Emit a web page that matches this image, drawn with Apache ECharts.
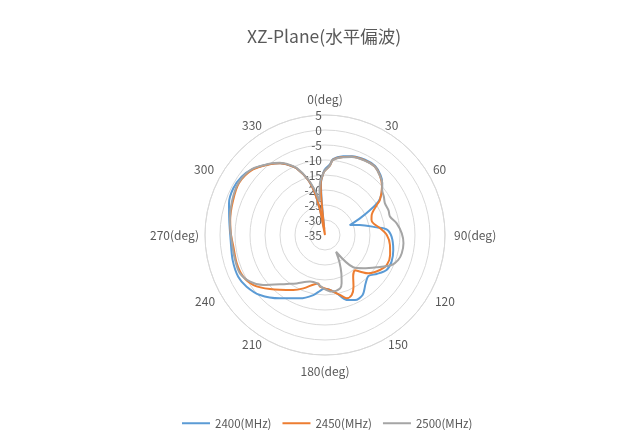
<!DOCTYPE html>
<html>
<head>
<meta charset="utf-8">
<script src="https://cdn.jsdelivr.net/npm/echarts@6/dist/echarts.min.js"></script>
<style>
html,body{margin:0;padding:0;background:#fff;}
#chart{width:638px;height:440px;}
</style>
</head>
<body>
<div id="chart"></div>
<script>
var seriesNames = ['2400(MHz)', '2450(MHz)', '2500(MHz)'];
var radiusTicks = [-35, -30, -25, -20, -15, -10, -5, 0, 5];
var angleTickLabels = {0: '0(deg)', 90: '90(deg)', 180: '180(deg)', 270: '270(deg)'};

var angles2400 = [0,4,6,13,19,28,36,43,47.6,53.7,58,61,64.5,68.2,74,81.6,84.7,91.4,102.4,111.8,119.6,127,133.4,140.1,147.9,155.2,161.6,168.7,176.5,181.1,185.1,191,201.5,215.4,227.3,236.6,244.3,254.8,267,278.9,288.3,297,305,312,322,328,333,337,343,346.5,348.7,350,353,354.5,355.5,358.5,360];
var gain2400 = [-13,-11.4,-9.6,-8.1,-7.2,-6.6,-6.6,-7.8,-9.2,-11.6,-14,-17.8,-22.1,-26,-22.9,-17.6,-14.4,-12.8,-11.7,-11.1,-11.4,-13.4,-15.1,-13.9,-11.4,-11.1,-12.2,-15.2,-16.9,-17.1,-16.3,-14.6,-12.3,-9.1,-5.5,-3.7,-2.9,-3.1,-3.5,-2.7,-1.3,-0.7,-1.1,-2.3,-5.0,-6.8,-8.9,-10.9,-15.8,-20.7,-26.5,-31,-33,-24,-17.7,-14.2,-13];

var angles2450 = [0,4,6,13,19,28,36,43,49.5,57.5,60,67,72,76.5,83,90,98.7,107,116,122.5,131.5,136,139.5,146,151,156,161,166,175,185.5,188,202,210,225.5,235,243,252,263,271,279,290,301,312,322,328,333,337,343,346.5,348.7,348.7,352,354,355.2,358.5,360];
var gain2450 = [-13.5,-11.8,-9.8,-8.3,-7.4,-6.8,-6.8,-8.1,-10.0,-13.3,-15.1,-18.1,-18.7,-18.4,-16.5,-14.4,-13.1,-12.3,-12.1,-13.3,-15.7,-18,-19.6,-18.2,-15.4,-13.1,-12.7,-14.4,-16.6,-17.7,-18.7,-15.8,-13.8,-9.3,-5.9,-4.4,-4.1,-4.2,-3.6,-3.0,-2.3,-1.5,-2.5,-5.1,-6.8,-8.9,-10.9,-15.8,-20.7,-26.5,-32.2,-35,-24.4,-17.7,-14.4,-13.5];

var angles2500 = [0,4,6,13,19,28,36,43,47.6,52,57,62,69,74,80.8,88.8,96,103.4,108.8,114.2,122,131,138.8,146.6,151.7,156.9,161,164.3,173.3,181.8,189.8,197.8,210.4,218,231,238.1,245.7,254.5,266.9,279,290,301,312,322,328,333,337,343,347,350.4,352.5,354.5,358.5,360];
var gain2500 = [-13.5,-11.8,-9.9,-8.4,-7.5,-6.9,-6.8,-8.1,-9.2,-10.8,-11.6,-12.4,-12.3,-12.5,-10.8,-9.4,-8.7,-8.7,-9.2,-10.6,-14.7,-18.1,-20.7,-28.3,-24.9,-21.1,-18,-16.5,-16,-17.2,-18.7,-18.7,-16.3,-14.3,-8.5,-5.6,-3.9,-3.9,-3.8,-2.9,-2.0,-1.3,-2.2,-4.9,-6.6,-8.7,-10.7,-15.5,-19.5,-23.7,-21,-17.5,-14.4,-13.5];

var colors = ['#5B9BD5', '#ED7D31', '#A5A5A5'];

function pairs(angles, gains) {
  var out = [];
  for (var i = 0; i < angles.length; i++) out.push([gains[i], angles[i]]);
  return out;
}
var seriesData = [pairs(angles2400, gain2400), pairs(angles2450, gain2450), pairs(angles2500, gain2500)];

var chart = echarts.init(document.getElementById('chart'), null, {renderer: 'canvas'});
var textColor = '#595959';
var fontFam = '"Noto Sans CJK JP", "Open Sans", sans-serif';

// per-label nudges so angle labels sit where the reference puts them
var labelPad = {
  0: [0, 0, 10, 0], 30: [0, 0, 0, 0], 60: [0, 0, 0, 4], 90: [0, 0, 0, 9],
  120: [0, 0, 0, 6], 150: [0, 0, 0, 3], 180: [10, 0, 0, 0], 210: [0, 3, 0, 0],
  240: [0, 6, 0, 0], 270: [0, 6, 0, 0], 300: [0, 7, 0, 0], 330: [0, 3, 0, 0]
};
var richStyles = {};
Object.keys(labelPad).forEach(function (k) {
  richStyles['a' + k] = {padding: labelPad[k], color: textColor, fontSize: 12, fontFamily: fontFam};
});

chart.setOption({
  animation: false,
  color: colors,
  title: {
    text: 'XZ-Plane(水平偏波)',
    left: 242,
    top: 23,
    textStyle: {color: textColor, fontSize: 17.5, fontWeight: 'normal', fontFamily: fontFam}
  },
  legend: {
    data: seriesNames,
    bottom: 6,
    left: 177,
    icon: 'rect',
    itemWidth: 28,
    itemHeight: 2,
    itemGap: 11,
    textStyle: {color: textColor, fontSize: 11.5, fontFamily: fontFam}
  },
  polar: {center: [325, 235], radius: 120},
  angleAxis: {
    type: 'value',
    min: 0,
    max: 360,
    interval: 30,
    startAngle: 90,
    clockwise: true,
    axisLine: {show: true, lineStyle: {color: '#d9d9d9', width: 1}},
    axisTick: {show: false},
    splitLine: {show: false},
    axisLabel: {
      color: textColor, fontSize: 12, fontFamily: fontFam, margin: 0,
      rich: richStyles,
      formatter: function (v) {
        var t = angleTickLabels[v] !== undefined ? angleTickLabels[v] : String(v);
        return labelPad[v] ? '{a' + v + '|' + t + '}' : t;
      }
    }
  },
  radiusAxis: {
    type: 'value',
    min: radiusTicks[0],
    max: radiusTicks[radiusTicks.length - 1],
    interval: 5,
    axisLine: {show: false},
    axisTick: {show: false},
    splitLine: {show: true, lineStyle: {color: '#d9d9d9', width: 1}},
    axisLabel: {color: textColor, fontSize: 12, fontFamily: fontFam, margin: 3}
  },
  series: seriesNames.map(function (name, i) {
    return {
      name: name,
      type: 'line',
      coordinateSystem: 'polar',
      showSymbol: false,
      symbol: 'none',
      smooth: 0.3,
      lineStyle: {width: 2, color: colors[i]},
      data: seriesData[i]
    };
  })
});
</script>
</body>
</html>
